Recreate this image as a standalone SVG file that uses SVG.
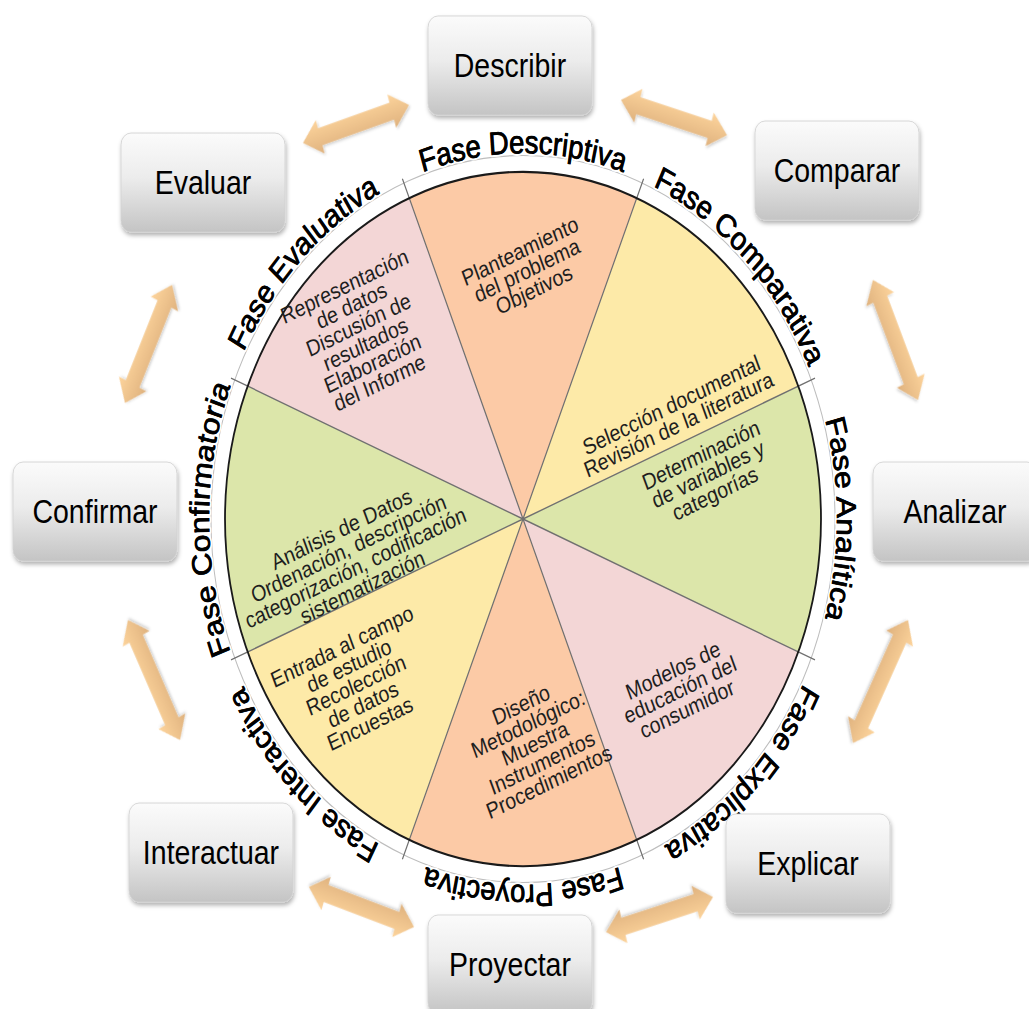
<svg xmlns="http://www.w3.org/2000/svg" width="1029" height="1009" viewBox="0 0 1029 1009">
<style>
.bt{font-family:"Liberation Sans",Arial,sans-serif;font-size:28.5px;fill:#000;text-anchor:middle}
.st{font-family:"Liberation Sans",Arial,sans-serif;font-size:19.5px;fill:#1e1e1e;text-anchor:middle}
.ph{font-family:"Liberation Sans",Arial,sans-serif;font-size:27.5px;fill:#000;text-anchor:middle;stroke:#fff;stroke-width:4;paint-order:stroke;stroke-linejoin:round}
.ph2{font-family:"Liberation Sans",Arial,sans-serif;font-size:27.5px;fill:#000;text-anchor:middle;stroke:#000;stroke-width:0.6}
.dv{stroke:#707070;stroke-width:1.2;fill:none}
.box{fill:url(#bg);stroke:#d2d2d2;stroke-width:0.8;filter:url(#sh)}
.arr{fill:url(#ag);filter:url(#ash)}
.o{fill:#fccaa6}.y{fill:#fdeaa8}.g{fill:#dce6aa}.p{fill:#f3d6d6}
</style>
<defs>
<linearGradient id="bg" x1="0" y1="0" x2="0" y2="1"><stop offset="0" stop-color="#fbfbfb"/><stop offset="0.45" stop-color="#ececec"/><stop offset="1" stop-color="#c4c4c4"/></linearGradient>
<linearGradient id="ag" x1="0" y1="0" x2="0" y2="1"><stop offset="0" stop-color="#fdd49c"/><stop offset="1" stop-color="#dfb27e"/></linearGradient>
<filter id="sh" x="-10%" y="-10%" width="125%" height="130%"><feDropShadow dx="1" dy="2.5" stdDeviation="2" flood-color="#000" flood-opacity="0.3"/></filter>
<filter id="ash" x="-10%" y="-30%" width="120%" height="160%"><feDropShadow dx="1" dy="1.5" stdDeviation="1.2" flood-color="#000" flood-opacity="0.2"/></filter>
<path id="ring" d="M209,445.5 A314,314 0 0 1 837,445.5 A314,314 0 0 1 209,445.5 A314,314 0 0 1 837,445.5 A314,314 0 0 1 209,445.5"/>
</defs>
<g transform="scale(1,1.165)">
<g id="connectors">
<path class="arr" transform="translate(303,122.7) rotate(-17.1)" d="M0,0 L18,-15 L18,-7.5 L92.9,-7.5 L92.9,-15 L110.9,0 L92.9,15 L92.9,7.5 L18,7.5 L18,15 Z"/>
<path class="arr" transform="translate(621,85.8) rotate(15.9)" d="M0,0 L18,-15 L18,-7.5 L92.2,-7.5 L92.2,-15 L110.2,0 L92.2,15 L92.2,7.5 L18,7.5 L18,15 Z"/>
<path class="arr" transform="translate(873,240.3) rotate(66.4)" d="M0,0 L18,-15 L18,-7.5 L94.4,-7.5 L94.4,-15 L112.4,0 L94.4,15 L94.4,7.5 L18,7.5 L18,15 Z"/>
<path class="arr" transform="translate(908,532.2) rotate(117.5)" d="M0,0 L18,-15 L18,-7.5 L101,-7.5 L101,-15 L119,0 L101,15 L101,7.5 L18,7.5 L18,15 Z"/>
<path class="arr" transform="translate(713,770) rotate(164.3)" d="M0,0 L18,-15 L18,-7.5 L93.1,-7.5 L93.1,-15 L111.1,0 L93.1,15 L93.1,7.5 L18,7.5 L18,15 Z"/>
<path class="arr" transform="translate(414,795.7) rotate(198.1)" d="M0,0 L18,-15 L18,-7.5 L92.5,-7.5 L92.5,-15 L110.5,0 L92.5,15 L92.5,7.5 L18,7.5 L18,15 Z"/>
<path class="arr" transform="translate(180,635.2) rotate(-116.8)" d="M0,0 L18,-15 L18,-7.5 L97.4,-7.5 L97.4,-15 L115.4,0 L97.4,15 L97.4,7.5 L18,7.5 L18,15 Z"/>
<path class="arr" transform="translate(125,345.9) rotate(-65.1)" d="M0,0 L18,-15 L18,-7.5 L93.7,-7.5 L93.7,-15 L111.7,0 L93.7,15 L93.7,7.5 L18,7.5 L18,15 Z"/>
</g>
<g id="wheel">
<path class="o" d="M523,445.5 L408.96,170.18 A298,298 0 0 1 637.04,170.18 Z"/>
<path class="y" d="M523,445.5 L637.04,170.18 A298,298 0 0 1 798.32,331.46 Z"/>
<path class="g" d="M523,445.5 L798.32,331.46 A298,298 0 0 1 798.32,559.54 Z"/>
<path class="p" d="M523,445.5 L798.32,559.54 A298,298 0 0 1 637.04,720.82 Z"/>
<path class="o" d="M523,445.5 L637.04,720.82 A298,298 0 0 1 408.96,720.82 Z"/>
<path class="y" d="M523,445.5 L408.96,720.82 A298,298 0 0 1 247.68,559.54 Z"/>
<path class="g" d="M523,445.5 L247.68,559.54 A298,298 0 0 1 247.68,331.46 Z"/>
<path class="p" d="M523,445.5 L247.68,331.46 A298,298 0 0 1 408.96,170.18 Z"/>
<circle cx="523" cy="445.5" r="312" fill="none" stroke="#bdbdbd" stroke-width="1"/>
<path class="dv" d="M523,445.5 L402.4,153.4 M523,445.5 L643.6,153.4 M523,445.5 L815,324.5 M523,445.5 L815,566.5 M523,445.5 L643.6,737.6 M523,445.5 L402.4,737.6 M523,445.5 L231,566.5 M523,445.5 L231,324.5"/>
<circle cx="523" cy="445.5" r="298" fill="none" stroke="#1a1a1a" stroke-width="1.8"/>
</g>
<g id="phase-labels">
<text class="ph"><textPath href="#ring" startOffset="6.25%">Fase Evaluativa</textPath></text>
<text class="ph"><textPath href="#ring" startOffset="12.5%">Fase Descriptiva</textPath></text>
<text class="ph"><textPath href="#ring" startOffset="18.75%">Fase Comparativa</textPath></text>
<text class="ph"><textPath href="#ring" startOffset="25%">Fase Analítica</textPath></text>
<text class="ph"><textPath href="#ring" startOffset="31.25%">Fase Explicativa</textPath></text>
<text class="ph"><textPath href="#ring" startOffset="37.5%">Fase Proyectiva</textPath></text>
<text class="ph"><textPath href="#ring" startOffset="43.75%">Fase Interactiva</textPath></text>
<text class="ph"><textPath href="#ring" startOffset="50%">Fase Confirmatoria</textPath></text>
<text class="ph2"><textPath href="#ring" startOffset="6.25%">Fase Evaluativa</textPath></text>
<text class="ph2"><textPath href="#ring" startOffset="12.5%">Fase Descriptiva</textPath></text>
<text class="ph2"><textPath href="#ring" startOffset="18.75%">Fase Comparativa</textPath></text>
<text class="ph2"><textPath href="#ring" startOffset="25%">Fase Analítica</textPath></text>
<text class="ph2"><textPath href="#ring" startOffset="31.25%">Fase Explicativa</textPath></text>
<text class="ph2"><textPath href="#ring" startOffset="37.5%">Fase Proyectiva</textPath></text>
<text class="ph2"><textPath href="#ring" startOffset="43.75%">Fase Interactiva</textPath></text>
<text class="ph2"><textPath href="#ring" startOffset="50%">Fase Confirmatoria</textPath></text>
</g>
<g id="sector-texts">
<text class="st" transform="translate(527,232) rotate(-23)"><tspan x="0" dy="-11.3">Planteamiento</tspan><tspan x="0" dy="18">del problema</tspan><tspan x="0" dy="18">Objetivos</tspan></text>
<text class="st" transform="translate(675,356) rotate(-23)"><tspan x="0" dy="-2.3">Selección documental</tspan><tspan x="0" dy="18">Revisión de la literatura</tspan></text>
<text class="st" transform="translate(708,407) rotate(-23)"><tspan x="0" dy="-11.3">Determinación</tspan><tspan x="0" dy="18">de variables y</tspan><tspan x="0" dy="18">categorías</tspan></text>
<text class="st" transform="translate(680,592) rotate(-23)"><tspan x="0" dy="-11.3">Modelos de</tspan><tspan x="0" dy="18">educación del</tspan><tspan x="0" dy="18">consumidor</tspan></text>
<text class="st" transform="translate(535,638) rotate(-23)"><tspan x="0" dy="-29.3">Diseño</tspan><tspan x="0" dy="18">Metodológico:</tspan><tspan x="0" dy="18">Muestra</tspan><tspan x="0" dy="18">Instrumentos</tspan><tspan x="0" dy="18">Procedimientos</tspan></text>
<text class="st" transform="translate(356,588) rotate(-23)"><tspan x="0" dy="-29.3">Entrada al campo</tspan><tspan x="0" dy="18">de estudio</tspan><tspan x="0" dy="18">Recolección</tspan><tspan x="0" dy="18">de datos</tspan><tspan x="0" dy="18">Encuestas</tspan></text>
<text class="st" transform="translate(352,479) rotate(-23)"><tspan x="0" dy="-20.3">Análisis de Datos</tspan><tspan x="0" dy="18">Ordenación, descripción</tspan><tspan x="0" dy="18">categorización, codificación</tspan><tspan x="0" dy="18">sistematización</tspan></text>
<text class="st" transform="translate(362,287) rotate(-23)"><tspan x="0" dy="-38.3">Representación</tspan><tspan x="0" dy="18">de datos</tspan><tspan x="0" dy="18">Discusión de</tspan><tspan x="0" dy="18">resultados</tspan><tspan x="0" dy="18">Elaboración</tspan><tspan x="0" dy="18">del Informe</tspan></text>
</g>
<g id="n-describir"><rect class="box" x="428" y="13.7" width="164" height="85" rx="10"/><text class="bt" x="510" y="66.3">Describir</text></g>
<g id="n-comparar"><rect class="box" x="755" y="103.9" width="164" height="85" rx="10"/><text class="bt" x="837" y="156.5">Comparar</text></g>
<g id="n-analizar"><rect class="box" x="873" y="396.6" width="164" height="85" rx="10"/><text class="bt" x="955" y="449.2">Analizar</text></g>
<g id="n-explicar"><rect class="box" x="726" y="698.7" width="164" height="85" rx="10"/><text class="bt" x="808" y="751.3">Explicar</text></g>
<g id="n-proyectar"><rect class="box" x="428" y="785.4" width="164" height="85" rx="10"/><text class="bt" x="510" y="838">Proyectar</text></g>
<g id="n-interactuar"><rect class="box" x="129" y="689.3" width="164" height="85" rx="10"/><text class="bt" x="211" y="741.9">Interactuar</text></g>
<g id="n-confirmar"><rect class="box" x="13" y="396.6" width="164" height="85" rx="10"/><text class="bt" x="95" y="449.2">Confirmar</text></g>
<g id="n-evaluar"><rect class="box" x="121" y="114.2" width="164" height="85" rx="10"/><text class="bt" x="203" y="166.8">Evaluar</text></g>
</g>
</svg>
